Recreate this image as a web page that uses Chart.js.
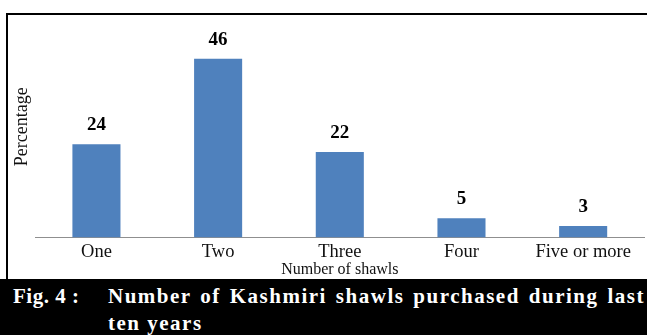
<!DOCTYPE html>
<html>
<head>
<meta charset="utf-8">
<script src="https://cdn.jsdelivr.net/npm/chart.js@4.4.1/dist/chart.umd.min.js"></script>
<style>
  html, body { margin:0; padding:0; background:#fff; width:647px; height:335px; overflow:hidden; }
  #wrap { position:absolute; left:0; top:0; width:647px; height:279px; }
  #frame { position:absolute; left:6px; top:13px; width:641px; height:266px; border-top:2px solid #000; border-left:2px solid #000; pointer-events:none; box-sizing:border-box; }
  #band { position:absolute; left:0; top:279px; width:647px; height:56px; background:#000; }
  .cap { position:absolute; color:#fff; font-family:"Liberation Serif","Times New Roman",serif; font-weight:bold; font-size:21px; line-height:24px; white-space:nowrap; }
  #fig { left:13px; top:284px; letter-spacing:0.5px; white-space:pre; }
  #l1 { left:108px; top:284px; width:537px; letter-spacing:1.5px; text-align:justify; text-align-last:justify; white-space:normal; }
  #l2 { left:108px; top:311px; letter-spacing:1.5px; }
</style>
</head>
<body>
<div id="wrap"><canvas id="c" width="647" height="279"></canvas></div>
<div id="frame"></div>
<div id="band"></div>
<div class="cap" id="fig">Fig. 4 :</div>
<div class="cap" id="l1">Number of Kashmiri shawls purchased during last</div>
<div class="cap" id="l2">ten years</div>
<script>
const categories = ["One", "Two", "Three", "Four", "Five or more"];
const percentages = [24, 46, 22, 5, 3];
const xTitle = "Number of shawls";
const yTitle = "Percentage";

const valueLabels = {
  id: 'valueLabels',
  afterDatasetsDraw(chart) {
    const ctx = chart.ctx;
    const meta = chart.getDatasetMeta(0);
    ctx.save();
    ctx.font = 'bold 19px "Liberation Serif", serif';
    ctx.fillStyle = '#000';
    ctx.textAlign = 'center';
    ctx.textBaseline = 'middle';
    meta.data.forEach((bar, i) => {
      ctx.fillText(String(chart.data.datasets[0].data[i]), bar.x, bar.y - 19);
    });
    ctx.restore();
  }
};

new Chart(document.getElementById('c'), {
  type: 'bar',
  data: {
    labels: categories,
    datasets: [{
      data: percentages,
      backgroundColor: '#4F81BD',
      borderWidth: 0,
      categoryPercentage: 1,
      barPercentage: 0.395
    }]
  },
  options: {
    responsive: false,
    animation: false,
    events: [],
    layout: { padding: { left: 11, right: 3, top: 16, bottom: 0 } },
    plugins: { legend: { display: false }, tooltip: { enabled: false } },
    scales: {
      x: {
        grid: { display: false, drawTicks: false },
        border: { display: true, color: '#8f8f8f', width: 1 },
        ticks: { color: '#111', padding: 3, font: { family: '"Liberation Serif", serif', size: 18.5 } },
        title: { display: true, text: xTitle, color: '#111', padding: { top: -6, bottom: 0 }, font: { family: '"Liberation Serif", serif', size: 16 } }
      },
      y: {
        min: 0, max: 57,
        grid: { display: false, drawTicks: false },
        border: { display: false },
        ticks: { display: false },
        title: { display: true, text: yTitle, color: '#111', padding: { top: 0, bottom: 3 }, font: { family: '"Liberation Serif", serif', size: 18 } }
      }
    }
  },
  plugins: [valueLabels]
});
</script>
</body>
</html>
